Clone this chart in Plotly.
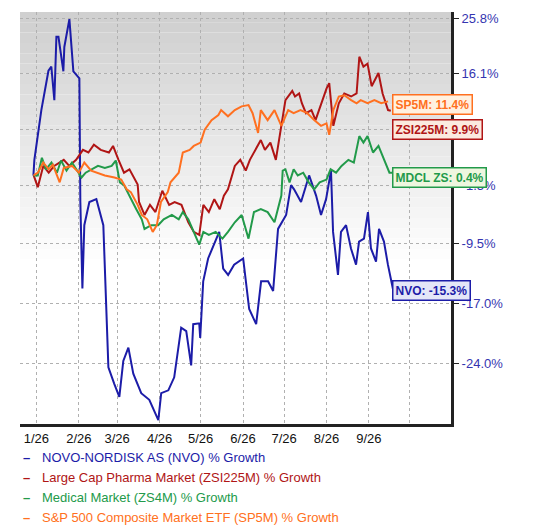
import pandas as pd
import plotly.graph_objects as go

BASE = pd.Timestamp("2026-01-01")

# day offsets from 2026-01-01 and % growth values
nvo_days = [-2.2,-1.5,3.6,8.8,10.9,13.1,14.6,16.1,19.7,20.4,24.1,27.0,31.4,32.1,33.6,35.0,38.7,43.8,48.9,52.6,
            56.9,60.6,63.5,67.2,70.8,76.6,82.5,89.1,91.2,96.4,100.7,105.8,109.5,113.1,114.6,119.0,119.7,121.9,125.5,129.9,
            133.6,136.5,140.1,144.5,151.1,155.5,160.6,164.2,169.3,173.0,176.6,182.5,186.1,188.3,193.4,199.3,204.4,208.0,211.7,215.3,
            216.8,220.4,222.6,226.3,229.9,233.6,235.8,239.4,242.3,244.5,248.2,250.4,254.0,256.9,260.6]
nvo_vals = [0,2.3,10.0,16.5,17.2,11.6,22.4,22.4,16.4,20.6,25.6,16.4,15.2,-3.8,-15.2,-7.0,-3.8,-3.4,-7.0,-24.4,
            -26.2,-27.6,-23.7,-22.2,-25.1,-27.2,-27.9,-30.0,-27.2,-26.9,-25.5,-19.9,-20.3,-24.2,-19.5,-19.4,-21.1,-14.3,-11.4,-9.6,
            -7.9,-12.7,-13.5,-12.2,-11.4,-17.7,-19.5,-14.3,-14.3,-15.5,-7.5,-5.6,-1.4,-2.0,-3.8,0.0,-2.9,-5.6,-3.4,0.7,
            -7.9,-13.5,-7.9,-7.0,-10.1,-12.2,-9.2,-8.8,-5.2,-10.1,-11.8,-7.5,-9.2,-12.2,-15.3]

pharma_days = [-2,1,5,9,13,20,24,29,34,38,42,47,53,56,60,64,68,74,75,79,83,87,92,97,101,106,111,115,119,122,126,130,134,137,140,
               145,149,153,156,160,164,167,171,175,178,182,187,189,192,194,197,201,204,208,212,214,217,221,225,230,234,236,239,242,245,
               250,253,257,259]
pharma_vals = [0,-1.7,1.4,0.4,1.4,2.3,1.4,2.3,3.8,3.4,4.6,3.8,3.4,4.4,2.3,0.4,0.9,-1.3,-3.8,-5.6,-4.2,-5.2,-2.2,-4.2,-3.8,-4.2,-6.6,-7.9,
               -8.3,-4.2,-5.2,-3.4,-4.8,-2.9,-2.0,1.4,2.3,0.7,2.3,3.8,5.3,3.8,4.9,2.3,5.9,11.6,13.1,12.2,12.7,11.1,9.5,10.0,8.4,11.1,13.5,
               14.4,7.5,11.1,12.7,12.2,12.7,18.9,17.2,17.7,13.9,16.1,12.7,10.0,9.9]

medical_days = [-2,1,4,7,11,15,18,22,26,29,33,36,40,45,50,55,58,61,64,69,73,77,79,84,89,93,99,104,107,111,115,119,122,126,131,136,140,145,
                150,155,159,164,169,174,179,180,182,185,188,191,195,199,203,207,212,215,219,223,228,232,236,239,242,246,250,254,258,261]
medical_vals = [0,0,2.6,0.9,1.9,0.4,2.2,0.7,1.9,0.9,-0.3,0.4,0.9,1.4,1.1,1.4,2.2,-1.0,-1.4,-3.4,-4.8,-6.2,-7.5,-7.0,-7.0,-6.2,-5.6,-6.2,
                -5.2,-6.2,-7.9,-9.6,-7.9,-8.3,-7.9,-8.8,-7.9,-6.6,-5.6,-8.8,-5.2,-4.8,-5.2,-6.6,-2.9,0.7,0.9,-1.0,0.9,0.0,0.4,-1.0,-2.0,-1.0,-0.6,
                0.9,0.4,1.4,2.3,1.9,5.9,4.9,5.9,3.4,4.4,2.3,0.4,0.4]

sp500_days = [-2,1,5,9,12,17,20,26,31,35,40,45,50,57,62,66,69,74,77,81,85,88,91,96,98,104,107,112,115,120,123,128,133,135,140,145,150,155,
              158,162,164,169,174,179,184,188,193,198,203,208,212,214,217,221,225,230,234,237,242,247,252,257]
sp500_vals = [0,0.4,1.9,0.9,1.6,-1.0,1.1,1.4,0.4,1.9,0.7,0.4,0,-0.3,-0.6,-2.0,-2.4,-4.2,-5.6,-6.2,-7.9,-7.0,-3.8,-2.4,-1.0,0.4,3.4,3.8,4.4,4.9,
              6.9,8.4,9.2,10.0,9.0,10.0,10.6,10.8,9.5,6.4,10.0,8.4,10.0,7.5,10.0,9.5,10.0,9.5,8.4,7.5,7.9,6.1,10.0,12.2,12.4,11.6,11.1,11.6,11.1,
              11.6,11.1,11.4]

y_ticks = [25.8, 16.1, 7.0, -1.5, -9.5, -17.0, -24.0]
y_ticktext = ["25.8%", "16.1%", "", "-1.5%", "-9.5%", "-17.0%", "-24.0%"]
x_tickdates = ["2026-01-01","2026-02-01","2026-03-01","2026-04-01","2026-05-01","2026-06-01","2026-07-01","2026-08-01","2026-09-01","2026-10-01"]
x_ticktext = ["1/26","2/26","3/26","4/26","5/26","6/26","7/26","8/26","9/26",""]

series = [
    ("NOVO-NORDISK AS (NVO) % Growth", nvo_days, nvo_vals, "#1c1ca8", "NVO: -15.3%", "#e4e6f8", 0.325),
    ("Large Cap Pharma Market (ZSI225M) % Growth", pharma_days, pharma_vals, "#b01515", "ZSI225M: 9.9%", "#fbeadf", 0.716),
    ("Medical Market (ZS4M) % Growth", medical_days, medical_vals, "#229a4a", "MDCL ZS: 0.4%", "#eef6df", 0.599),
    ("S&P 500 Composite Market ETF (SP5M) % Growth", sp500_days, sp500_vals, "#ff7020", "SP5M: 11.4%", "#fff1e0", 0.776),
]
legend_y = [-0.082, -0.130, -0.178, -0.226]

fig = go.Figure()
annotations = []
for (name, days, vals, col, lab, fill, ypos), ly in zip(series, legend_y):
    x = BASE + pd.to_timedelta(days, unit="D")
    y = [1 + v / 100 for v in vals]
    fig.add_trace(go.Scatter(x=x, y=y, mode="lines", name=name, showlegend=False,
                             line=dict(color=col, width=2), hoverinfo="skip"))
    annotations.append(dict(xref="paper", yref="paper", x=0.862, y=ypos, xanchor="left", yanchor="middle",
                            text="<b>" + lab + "</b>", showarrow=False, font=dict(color=col, size=12, family="Arial"),
                            bgcolor=fill, bordercolor=col, borderwidth=1.5, borderpad=2))
    annotations.append(dict(xref="paper", yref="paper", x=0.003, y=ly, xanchor="left", yanchor="middle",
                            text="<b>–</b>", showarrow=False, font=dict(color=col, size=13, family="Arial")))
    annotations.append(dict(xref="paper", yref="paper", x=0.047, y=ly, xanchor="left", yanchor="middle",
                            text=name, showarrow=False, font=dict(color=col, size=13, family="Arial")))

# grey-to-white background bands
shapes = []
n = 40
for i in range(n):
    t = i / n
    f = min(1.0, t / 0.6)
    c = int(208 + (255 - 208) * f)
    shapes.append(dict(type="rect", xref="paper", yref="paper", x0=0, x1=1, y0=1 - t - 1 / n, y1=1 - t,
                       fillcolor=f"rgb({c},{c},{c})", line=dict(width=0), layer="below"))

fig.update_layout(
    width=532, height=520,
    margin=dict(l=12, r=89, t=4, b=104),
    paper_bgcolor="white", plot_bgcolor="white",
    font=dict(family="Arial", size=13),
    shapes=shapes, annotations=annotations,
    showlegend=False,
    xaxis=dict(range=["2025-12-20", "2026-10-31"], tickvals=x_tickdates, ticktext=x_ticktext, automargin=False,
               showgrid=True, gridcolor="#b0b0b0", griddash="dot", ticks="",
               showline=True, linecolor="#222", linewidth=3, tickfont=dict(color="#111", size=13)),
    yaxis=dict(type="log", side="right", range=[-0.1574, 0.1035], automargin=False,
               tickvals=[1 + v / 100 for v in y_ticks], ticktext=y_ticktext,
               showgrid=True, gridcolor="#b0b0b0", griddash="dot", ticks="outside", ticklen=5,
               tickcolor="#222", showline=True, linecolor="#222", linewidth=3,
               tickfont=dict(color="#3434b0", size=13)),
)
fig.write_html("out.html")
